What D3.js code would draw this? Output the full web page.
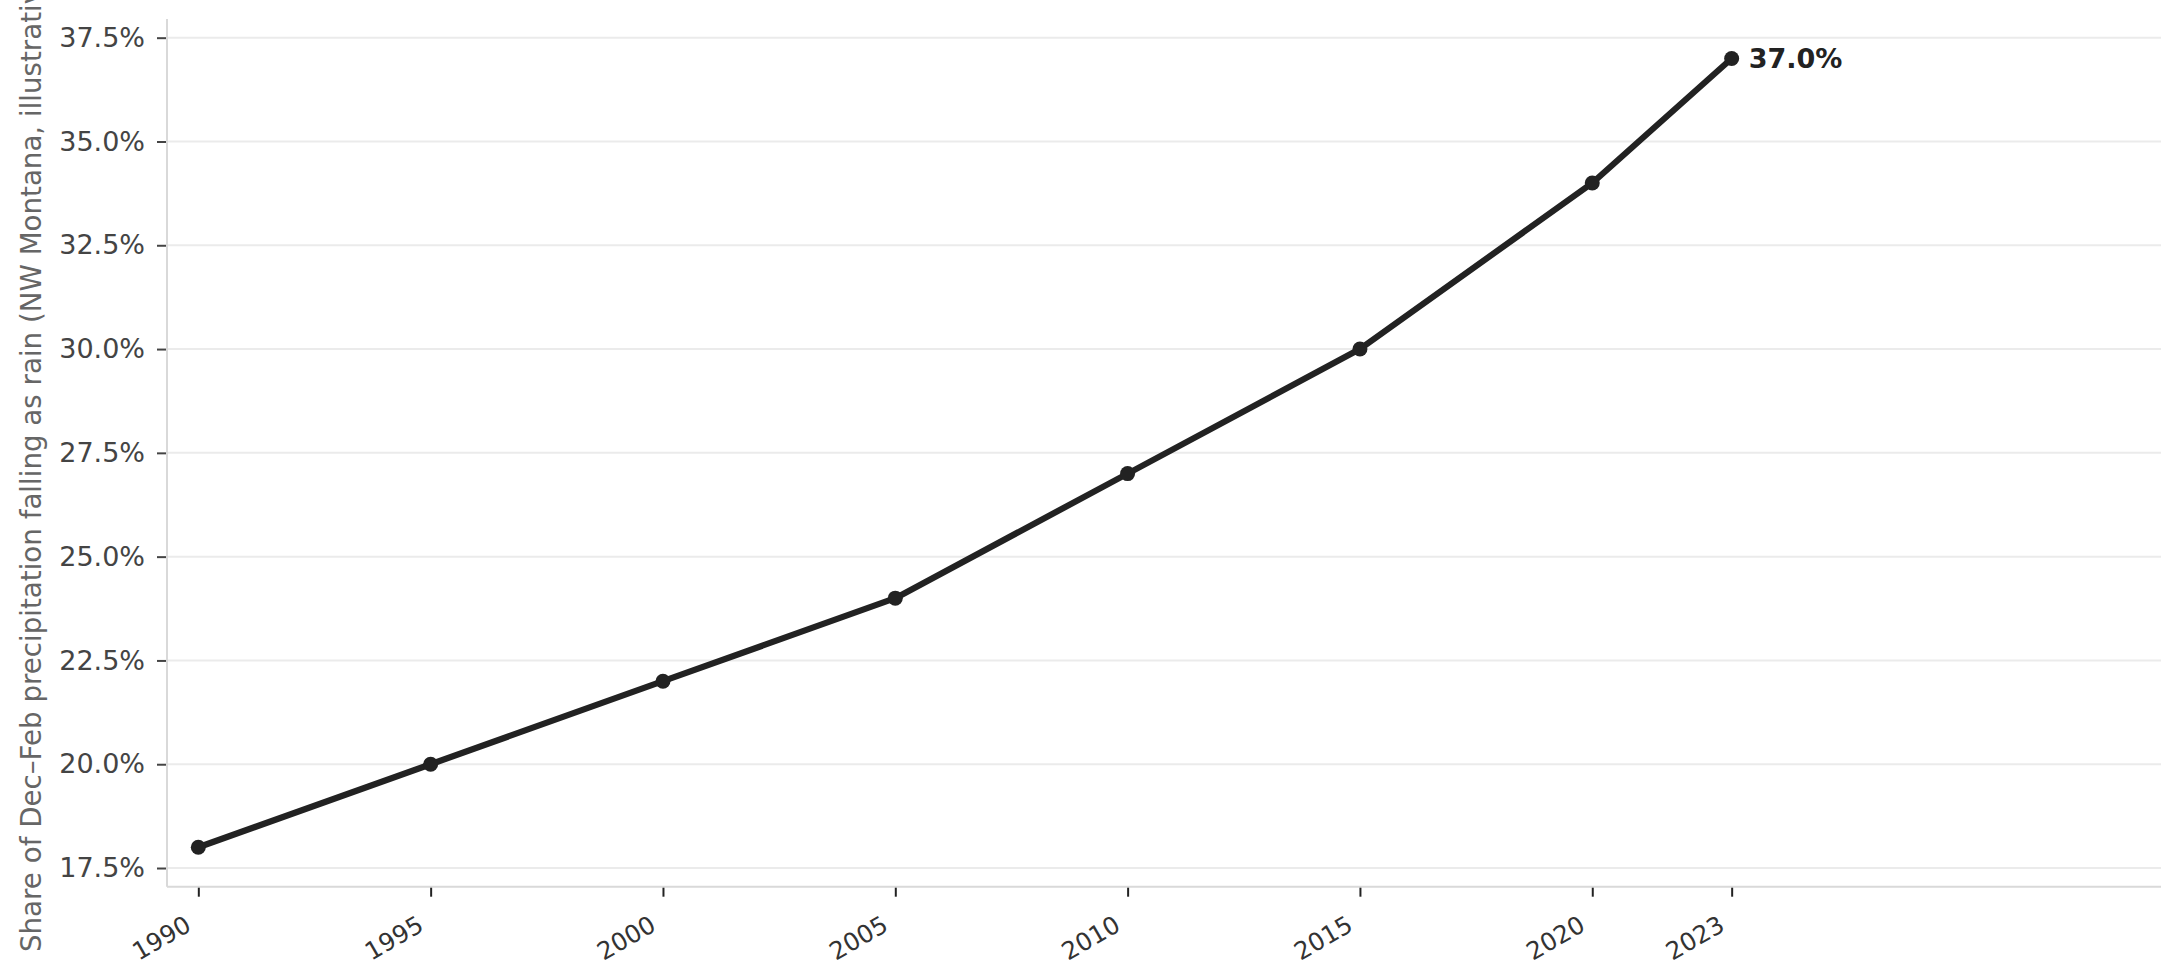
<!DOCTYPE html>
<html>
<head>
<meta charset="utf-8">
<script src="https://cdn.jsdelivr.net/npm/d3@7"></script>
<style>
  html, body { margin: 0; padding: 0; background: #fff; overflow: hidden; }
  svg { display: block; font-family: "DejaVu Sans", sans-serif; }
</style>
</head>
<body>
<div id="chart"></div>
<script>
// Data
const years = [1990, 1995, 2000, 2005, 2010, 2015, 2020, 2023];
const rainShare = [18, 20, 22, 24, 27, 30, 34, 37];
const xTicks = [1990, 1995, 2000, 2005, 2010, 2015, 2020, 2023];
const yTicks = [17.5, 20, 22.5, 25, 27.5, 30, 32.5, 35, 37.5];
const yLabel = "Share of Dec\u2013Feb precipitation falling as rain (NW Montana, illustrative)";

const data = years.map((y, i) => ({ year: y, value: rainShare[i] }));

const width = 2179;
const height = 979;
const margin = { top: 19, right: 18, bottom: 92.3, left: 167 };
const innerW = width - margin.left - margin.right;
const innerH = height - margin.top - margin.bottom;

const svg = d3.select("#chart")
  .append("svg")
  .attr("width", width)
  .attr("height", height);

const g = svg.append("g")
  .attr("transform", `translate(${margin.left},${margin.top})`);

// Scales
const x = d3.scaleLinear()
  .domain([1989.326, 2032.24])
  .range([0, innerW]);

const y = d3.scaleLinear()
  .domain([17.05, 37.95])
  .range([innerH, 0]);

// Horizontal grid
g.append("g")
  .selectAll("line")
  .data(yTicks)
  .enter().append("line")
  .attr("x1", 0)
  .attr("x2", innerW)
  .attr("y1", d => y(d))
  .attr("y2", d => y(d))
  .attr("stroke", "#ebebeb")
  .attr("stroke-width", 2);

// Y axis
const yAxis = g.append("g")
  .call(d3.axisLeft(y).tickValues(yTicks).tickFormat(d => d.toFixed(1) + "%").tickSize(10).tickPadding(12));
yAxis.select(".domain").remove();
yAxis.selectAll(".tick line").attr("stroke", "#444").attr("stroke-width", 2);
yAxis.selectAll(".tick text")
  .attr("fill", "#444")
  .style("font-size", "27px")
  .style("font-family", "DejaVu Sans");

// X axis
const xAxis = g.append("g")
  .attr("transform", `translate(0,${innerH})`)
  .call(d3.axisBottom(x).tickValues(xTicks).tickFormat(d3.format("d")).tickSize(10));
xAxis.select(".domain").remove();
xAxis.selectAll(".tick line").attr("stroke", "#222").attr("stroke-width", 2);
xAxis.selectAll(".tick text")
  .attr("fill", "#333")
  .attr("text-anchor", "end")
  .attr("dy", null)
  .attr("y", null)
  .attr("transform", "translate(-6,43) rotate(-30)")
  .style("font-size", "24.5px")
  .style("font-family", "DejaVu Sans");

// Spines (left and bottom)
g.append("line")
  .attr("x1", 0).attr("x2", 0)
  .attr("y1", 0).attr("y2", innerH)
  .attr("stroke", "#d9d9d9").attr("stroke-width", 2);
g.append("line")
  .attr("x1", 0).attr("x2", innerW)
  .attr("y1", innerH).attr("y2", innerH)
  .attr("stroke", "#d9d9d9").attr("stroke-width", 2);

// Line
const line = d3.line()
  .x(d => x(d.year))
  .y(d => y(d.value));

g.append("path")
  .datum(data)
  .attr("fill", "none")
  .attr("stroke", "#222")
  .attr("stroke-width", 6.2)
  .attr("stroke-linejoin", "round")
  .attr("d", line);

// Markers
g.selectAll(".dot")
  .data(data)
  .enter().append("circle")
  .attr("class", "dot")
  .attr("cx", d => x(d.year))
  .attr("cy", d => y(d.value))
  .attr("r", 7.5)
  .attr("fill", "#222");

// End label
const last = data[data.length - 1];
g.append("text")
  .attr("x", x(last.year) + 17)
  .attr("y", y(last.value))
  .attr("dy", "0.36em")
  .attr("fill", "#222")
  .style("font-size", "27px")
  .style("font-weight", "bold")
  .text(last.value.toFixed(1) + "%");

// Y axis label (starts near the bottom and runs off the top, as in the reference)
svg.append("text")
  .attr("transform", "translate(41,952) rotate(-90)")
  .attr("text-anchor", "start")
  .attr("fill", "#666")
  .style("font-size", "27.7px")
  .text(yLabel);
</script>
</body>
</html>
